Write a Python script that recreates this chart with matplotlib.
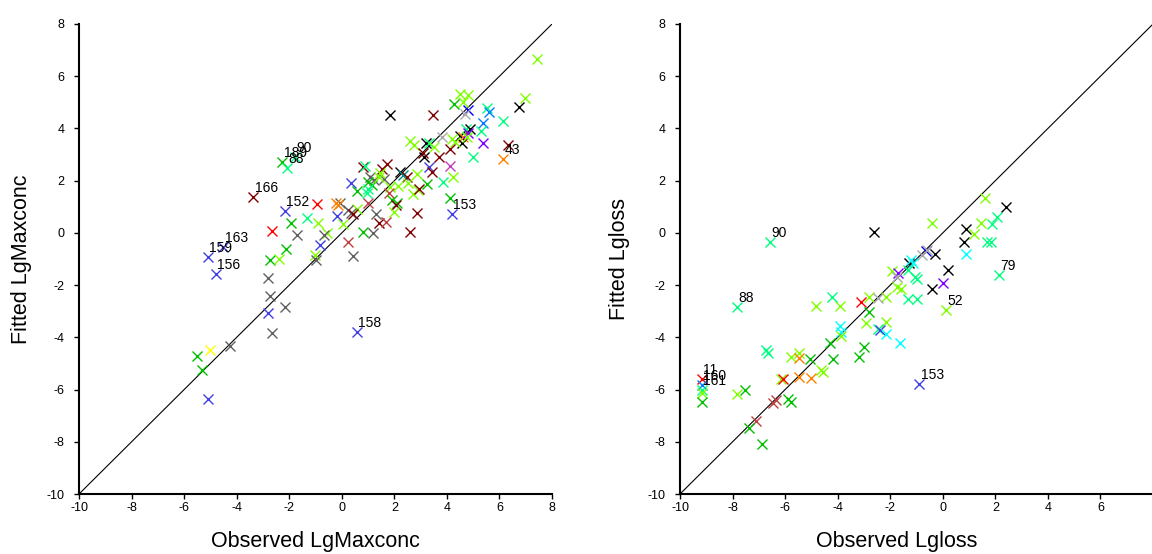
import matplotlib
matplotlib.use("Agg")
import matplotlib.pyplot as plt

plt.rcParams['font.family'] = ['Liberation Sans', 'DejaVu Sans']
plt.rcParams['axes.unicode_minus'] = False

# group colours (one per data group)
group_colors = {
    'black': '#000000', 'maroon': '#800000', 'red': '#ff0000', 'orange': '#ff8000',
    'yellow': '#ffff00', 'chart': '#80ff00', 'green': '#00c000', 'spring': '#00ff80',
    'cyan': '#00ffff', 'dodger': '#0080ff', 'blue': '#0000ff', 'slate': '#4040e0',
    'purple': '#8000ff', 'orchid': '#c040c0', 'gray': '#606060', 'silver': '#a8a8a8',
    'indian': '#c04040', 'teal': '#009090',
}

# ---- left panel: LgMaxconc ----
max_obs = [7.42, 1.83, 3.48, 4.50, 4.81, 4.62, 4.27, 4.81, 4.69, 6.74, 6.97, 5.51, 5.61, 5.36,
           6.15, 5.30, 4.71, 4.88, 4.50, 4.62, 4.81, 5.36, 4.56, 4.18, 4.31, 4.75, 4.98, 6.31,
           6.15, 2.60, 2.76, 3.20, 3.33, 3.51, 3.14, 3.10, 4.12, 3.71, 3.80, 3.33, 3.42, 4.12,
           4.22, 3.86, 3.23, 2.85, 2.72, 2.91, 2.95, 2.21, 2.32, 2.47, 2.15, 2.53, 1.73, 1.52,
           0.82, 0.88, 1.07, 1.22, 1.61, 1.01, 1.14, 0.95, 1.01, 1.43, 1.83, 1.45, 0.56, 0.34,
           1.81, 1.90, 2.09, 2.06, 1.99, 2.85, 4.12, 4.18, 2.60, 1.29, 1.20, 0.98, 0.79, 0.56,
           0.06, -0.58, -0.07, 0.25, 0.34, 0.44, -0.22, -0.13, -0.19, -0.96, -2.16, -1.31, -0.92,
           -1.93, -2.67, -1.72, -0.67, -3.37, -2.27, -2.07, -1.80, 0.56, 0.44, 0.25, 1.43, 1.68,
           -0.83, -1.02, -0.99, -4.51, -5.11, -4.79, -2.73, -2.39, -2.14, -2.80, -2.73, -2.80,
           -2.16, -2.67, -4.25, -5.02, -5.50, -5.33, -5.08]
max_fit = [6.65, 4.51, 4.51, 5.32, 5.28, 5.02, 4.94, 4.71, 4.55, 4.81, 5.15, 4.77, 4.64, 4.22,
           4.30, 3.91, 3.97, 3.97, 3.72, 3.66, 3.81, 3.43, 3.43, 3.58, 3.49, 3.66, 2.89, 3.37,
           2.82, 3.53, 3.37, 3.45, 3.43, 3.28, 2.92, 3.07, 3.20, 2.92, 3.66, 2.51, 2.34, 2.56,
           2.15, 1.96, 1.87, 2.25, 1.49, 1.64, 1.68, 2.34, 2.22, 2.15, 1.80, 1.92, 2.64, 2.44,
           2.53, 2.56, 2.13, 2.03, 2.05, 1.96, 1.83, 1.54, 1.67, 2.15, 1.77, 2.28, 1.62, 1.92,
           1.52, 1.26, 1.13, 1.07, 0.81, 0.77, 1.32, 0.71, 0.05, 0.72, 0.01, 1.16, 0.05, 0.90,
           0.34, 0.01, 1.13, 0.88, 0.75, 0.72, 1.13, 1.07, 0.65, 1.09, 0.85, 0.56, 0.39,
           0.37, 0.08, -0.08, -0.08, 1.39, 2.72, 2.48, 2.92, -3.78, -0.89, -0.34, 0.37, 0.43,
           -0.46, -0.85, -1.04, -0.55, -0.93, -1.57, -1.02, -1.00, -0.62, -1.74, -2.42, -3.06,
           -2.83, -3.83, -4.32, -4.48, -4.71, -5.26, -6.37]
max_grp = ['chart', 'black', 'maroon', 'chart', 'chart', 'chart', 'green', 'blue', 'silver',
           'black', 'chart', 'spring', 'dodger', 'dodger', 'spring', 'spring', 'spring', 'black',
           'black', 'orange', 'purple', 'purple', 'black', 'chart', 'chart', 'chart', 'spring',
           'maroon', 'orange', 'chart', 'chart', 'black', 'spring', 'chart', 'black', 'maroon',
           'maroon', 'maroon', 'silver', 'slate', 'maroon', 'orchid', 'chart', 'spring', 'green',
           'chart', 'chart', 'chart', 'maroon', 'black', 'teal', 'maroon', 'chart', 'chart',
           'maroon', 'maroon', 'maroon', 'spring', 'gray', 'gray', 'gray', 'green', 'green',
           'spring', 'spring', 'chart', 'chart', 'chart', 'green', 'slate', 'indian', 'green',
           'green', 'maroon', 'chart', 'maroon', 'green', 'slate', 'maroon', 'gray', 'gray',
           'indian', 'green', 'chart', 'chart', 'chart', 'gray', 'gray', 'gray', 'maroon',
           'orange', 'orange', 'slate', 'red', 'slate', 'spring', 'chart', 'green', 'red', 'gray',
           'gray', 'maroon', 'green', 'spring', 'spring', 'slate', 'gray', 'indian', 'maroon',
           'indian', 'slate', 'chart', 'gray', 'slate', 'slate', 'slate', 'green', 'chart',
           'green', 'gray', 'gray', 'slate', 'gray', 'gray', 'gray', 'yellow', 'green', 'green',
           'slate']
max_lab = {28: '43', 77: '153', 94: '152', 101: '166', 102: '189', 103: '88', 104: '90',
           105: '158', 113: '163', 114: '159', 115: '156'}

# ---- right panel: Lgloss ----
loss_obs = [-6.59, -7.83, -2.63, -0.42, 1.62, 2.42, 0.89, 0.81, 1.19, 1.44, 1.88, 2.07, 1.69,
            1.84, 0.89, 2.13, 0.21, -0.42, 0.02, 0.11, -0.29, -0.65, -0.78, -0.59, -1.30,
            -1.21, -1.15, -1.34, -1.93, -1.72, -1.76, -1.05, -0.99, -1.76, -1.59, -1.34, -1.00,
            -3.11, -2.80, -2.16, -2.48, -2.80, -4.82, -3.90, -4.22, -3.90, -3.87, -3.87, -2.92,
            -2.16, -2.48, -2.38, -2.16, -1.63, -4.28, -2.99, -3.20, -4.19, -6.71, -6.65, -5.76,
            -5.48, -5.48, -5.07, -4.63, -4.57, -5.01, -5.48, -6.17, -6.08, -5.89, -5.76, -6.33,
            -6.46, -7.12, -7.37, -6.88, -7.85, -7.54, -0.90, -9.18, -9.18, -9.18, -9.18, -9.18]
loss_fit = [-0.34, -2.85, 0.05, 0.37, 1.32, 0.98, 0.14, -0.34, -0.04, 0.37, 0.34, 0.60, -0.34,
            -0.34, -0.81, -1.61, -1.42, -2.16, -1.93, -2.95, -0.81, -0.69, -0.85, -0.65, -1.14,
            -1.04, -1.14, -1.42, -1.45, -1.52, -1.68, -1.68, -1.78, -2.08, -2.16, -2.54, -2.54,
            -2.64, -2.44, -2.44, -2.51, -3.02, -2.79, -2.79, -2.47, -3.57, -3.78, -3.95, -3.46,
            -3.40, -3.69, -3.72, -3.87, -4.21, -4.21, -4.36, -4.77, -4.84, -4.50, -4.60, -4.74,
            -4.61, -4.80, -4.84, -5.25, -5.32, -5.55, -5.53, -5.61, -5.61, -6.36, -6.47, -6.40,
            -6.53, -7.19, -7.49, -8.09, -6.18, -6.02, -5.79, -5.61, -5.83, -6.02, -6.14, -6.47]
loss_grp = ['spring', 'spring', 'black', 'chart', 'chart', 'black', 'black', 'black', 'chart',
            'chart', 'spring', 'spring', 'spring', 'spring', 'cyan', 'spring', 'black', 'black',
            'purple', 'chart', 'black', 'blue', 'silver', 'silver', 'black', 'cyan', 'cyan',
            'spring', 'chart', 'purple', 'silver', 'spring', 'spring', 'chart', 'chart', 'spring',
            'spring', 'red', 'chart', 'chart', 'silver', 'green', 'chart', 'chart', 'spring',
            'cyan', 'cyan', 'chart', 'chart', 'chart', 'spring', 'slate', 'cyan', 'cyan', 'green',
            'green', 'green', 'green', 'spring', 'spring', 'chart', 'chart', 'orange', 'green',
            'chart', 'chart', 'orange', 'orange', 'chart', 'red', 'green', 'green', 'indian',
            'indian', 'indian', 'green', 'green', 'chart', 'green', 'slate', 'red', 'dodger',
            'spring', 'chart', 'green']
loss_lab = {0: '90', 1: '88', 15: '79', 19: '52', 79: '153', 80: '11', 81: '160', 82: '161'}


def draw_panel(ax, obs, fit, grp, labels, xlabel, ylabel, xticks, xlab_x, ylab_x):
    ax.plot([-10, 8], [-10, 8], color='black', lw=0.8, zorder=1)
    for x, y, g in zip(obs, fit, grp):
        ax.plot(x, y, marker='x', ms=7, mew=1.0, color=group_colors[g], ls='none', zorder=2)
    for i, txt in labels.items():
        ax.annotate(txt, (obs[i], fit[i]), xytext=(1, 1.5), textcoords='offset points',
                    ha='left', va='bottom', fontsize=10, zorder=3)
    ax.set_xlim(-10, 8)
    ax.set_ylim(-10, 8)
    ax.set_xticks(xticks)
    ax.set_yticks(range(-10, 9, 2))
    ax.spines['top'].set_visible(False)
    ax.spines['right'].set_visible(False)
    ax.spines['left'].set_linewidth(1.5)
    ax.spines['bottom'].set_linewidth(1.5)
    ax.tick_params(axis='both', direction='out', length=3.5, width=1, labelsize=9)
    ax.tick_params(axis='y', pad=7)
    ax.tick_params(axis='x', pad=2)
    ax.set_xlabel(xlabel, fontsize=15.5)
    ax.set_ylabel(ylabel, fontsize=15.5)
    ax.xaxis.set_label_coords(xlab_x, -0.078)
    ax.yaxis.set_label_coords(ylab_x, 0.50)


fig = plt.figure(figsize=(11.52, 5.54), dpi=100)
ax1 = fig.add_axes([0.0686, 0.1083, 0.4106, 0.8484])
ax2 = fig.add_axes([0.5903, 0.1083, 0.4106, 0.8484])

draw_panel(ax1, max_obs, max_fit, max_grp, max_lab, 'Observed LgMaxconc', 'Fitted LgMaxconc',
           range(-10, 9, 2), 0.5, -0.099)
draw_panel(ax2, loss_obs, loss_fit, loss_grp, loss_lab, 'Observed Lgloss', 'Fitted Lgloss',
           range(-10, 7, 2), 0.457, -0.106)

fig.savefig('out.png', dpi=100)
